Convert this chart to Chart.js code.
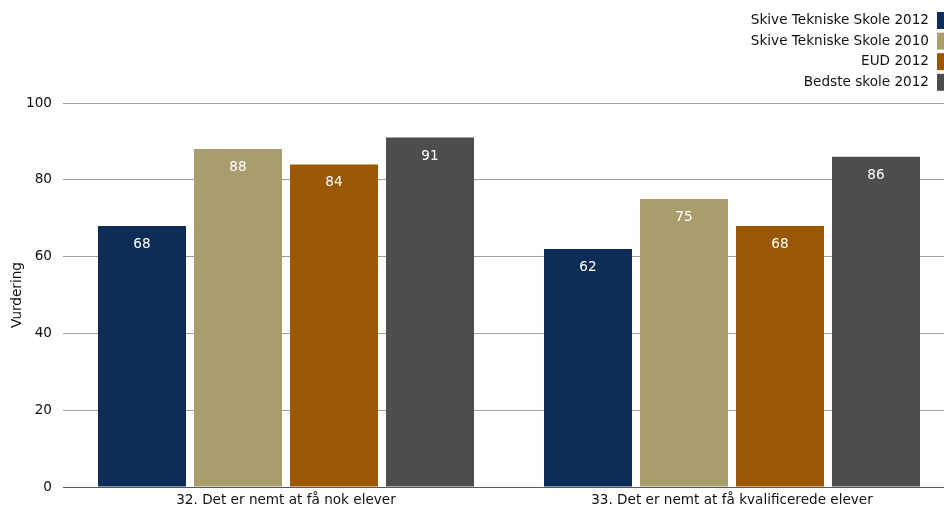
<!DOCTYPE html>
<html><head><meta charset="utf-8">
<script src="https://cdn.jsdelivr.net/npm/chart.js@4/dist/chart.umd.min.js"></script>
<style>
html,body{margin:0;padding:0;background:#fff;overflow:hidden;width:944px;height:510px;}
#wrap{position:absolute;left:0;top:0;width:955px;height:510px;}
</style></head>
<body>
<div id="wrap"><canvas id="c" width="955" height="510"></canvas></div>
<script>
const categories = ["32. Det er nemt at få nok elever", "33. Det er nemt at få kvalificerede elever"];
const seriesNames = ["Skive Tekniske Skole 2012", "Skive Tekniske Skole 2010", "EUD 2012", "Bedste skole 2012"];
const skive2012 = [68, 62];
const skive2010 = [88, 75];
const eud2012 = [84, 68];
const bedste2012 = [91, 86];
const yTicks = [0, 20, 40, 60, 80, 100];
const colors = ["#0c2d55", "#a99d6d", "#9a5805", "#4d4d4d"];
const FONT = "'DejaVu Sans', Tahoma, sans-serif";
const FS = 13.6;

const valuesList = [skive2012, skive2010, eud2012, bedste2012];

const labelPlugin = {
  id: 'vlabels',
  afterDatasetsDraw(chart) {
    const ctx = chart.ctx;
    ctx.save();
    ctx.fillStyle = '#ffffff';
    ctx.font = FS + "px " + FONT;
    ctx.textAlign = 'center';
    ctx.textBaseline = 'middle';
    chart.data.datasets.forEach((ds, i) => {
      const meta = chart.getDatasetMeta(i);
      meta.data.forEach((el, j) => {
        ctx.fillText(String(ds.data[j]), el.x, el.y + 18.5);
      });
    });
    ctx.restore();
  }
};

const legendPlugin = {
  id: 'rlegend',
  afterDraw(chart) {
    const ctx = chart.ctx;
    ctx.save();
    ctx.font = FS + "px " + FONT;
    ctx.textAlign = 'right';
    ctx.textBaseline = 'middle';
    chart.data.datasets.forEach((ds, i) => {
      const cy = 20.5 + i * 20.6;
      ctx.fillStyle = ds.backgroundColor;
      ctx.fillRect(937, cy - 8.5, 10, 17);
      ctx.fillStyle = '#111111';
      ctx.fillText(ds.label, 929, cy);
    });
    ctx.restore();
  }
};

new Chart(document.getElementById('c'), {
  type: 'bar',
  data: {
    labels: categories,
    datasets: seriesNames.map((n, i) => ({
      label: n,
      data: valuesList[i],
      backgroundColor: colors[i],
      borderWidth: 0,
      categoryPercentage: 0.861,
      barPercentage: 0.917
    }))
  },
  options: {
    responsive: false,
    animation: false,
    devicePixelRatio: 1,
    layout: { padding: { top: 103, left: 0, right: 0, bottom: 0 } },
    plugins: { legend: { display: false }, tooltip: { enabled: false } },
    scales: {
      x: {
        grid: { display: false, drawTicks: false },
        border: { display: false },
        ticks: { color: '#111111', font: { family: FONT, size: FS }, padding: 5, maxRotation: 0 },
        afterFit(s) { s.height = 23; }
      },
      y: {
        min: 0, max: 100,
        afterBuildTicks(s) { s.ticks = yTicks.map(v => ({ value: v })); },
        grid: { color: (c) => (c.tick && c.tick.value === 0 ? '#5a5a5a' : '#a0a0a0'), drawTicks: false, lineWidth: 1 },
        border: { display: false },
        ticks: { color: '#111111', font: { family: FONT, size: FS }, padding: 11 },
        title: { display: true, text: 'Vurdering', color: '#111111', font: { family: FONT, size: FS }, padding: { top: 9, bottom: 0 } },
        afterFit(s) { s.width = 63; }
      }
    }
  },
  plugins: [labelPlugin, legendPlugin]
});
</script>
</body></html>
